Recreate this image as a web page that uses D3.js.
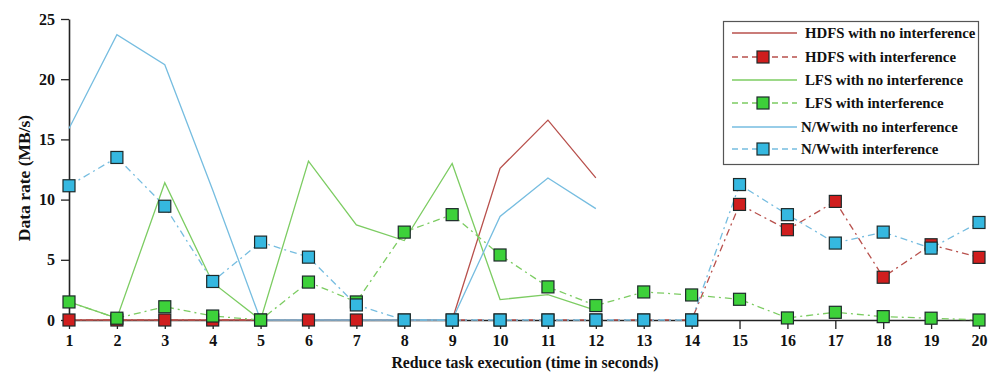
<!DOCTYPE html>
<html>
<head>
<meta charset="utf-8">
<script src="https://cdn.jsdelivr.net/npm/d3@7"></script>
<style>
  html, body { margin: 0; padding: 0; background: #fff; }
  svg { display: block; }
  text { font-family: "Liberation Serif", "Times New Roman", serif; font-weight: bold; fill: #111; }
</style>
</head>
<body>
<svg id="chart" width="992" height="374"></svg>
<script>
// Time steps (seconds) of the reduce task
const seconds = d3.range(1, 21);
const yTicks = [0, 5, 10, 15, 20, 25];

// Data rates in MB/s
const hdfsNoInterference = [0, 0, 0, 0, 0, 0, 0, 0, 0, 12.6, 16.6, 11.8];
const hdfsInterference   = [0, 0, 0, 0, 0, 0, 0, 0, 0, 0, 0, 0, 0, 0, 9.6, 7.5, 9.85, 3.55, 6.25, 5.2];
const lfsNoInterference  = [1.5, 0.15, 11.4, 3.1, 0, 13.2, 7.9, 6.6, 13.0, 1.7, 2.1, 0.8];
const lfsInterference    = [1.5, 0.15, 1.1, 0.33, 0, 3.15, 1.5, 7.3, 8.75, 5.4, 2.75, 1.2, 2.33, 2.08, 1.72, 0.17, 0.64, 0.28, 0.15, 0];
const nwNoInterference   = [15.9, 23.7, 21.2, 10.8, 0, 0, 0, 0, 0, 8.6, 11.8, 9.25];
const nwInterference     = [11.15, 13.5, 9.45, 3.2, 6.47, 5.22, 1.25, 0, 0, 0, 0, 0, 0, 0, 11.25, 8.75, 6.39, 7.3, 5.97, 8.1];

const seriesNames = [
  "HDFS with no interference", "HDFS with interference",
  "LFS with no interference", "LFS with interference",
  "N/W with no interference", "N/W with interference"
];

const svg = d3.select("#chart");
const margin = { left: 70, right: 13, top: 19, bottom: 54 };
const W = 992, H = 374;

const x = d3.scaleLinear().domain([1, 20]).range([margin.left - 1, W - margin.right]);
const y = d3.scaleLinear().domain([0, 25]).range([H - margin.bottom, margin.top]);

const styles = [
  { line: "#b8504c", fill: "#d01e1e", dash: null, marker: false },
  { line: "#b8504c", fill: "#d01e1e", dash: "7,4,2,4", marker: true },
  { line: "#7ccc62", fill: "#3dd13a", dash: null, marker: false },
  { line: "#7ccc62", fill: "#3dd13a", dash: "7,4,2,4", marker: true },
  { line: "#76bde0", fill: "#35b8e0", dash: null, marker: false },
  { line: "#76bde0", fill: "#35b8e0", dash: "7,4,2,4", marker: true }
];
const data = [hdfsNoInterference, hdfsInterference, lfsNoInterference, lfsInterference, nwNoInterference, nwInterference];

// Axes
const xAxis = d3.axisBottom(x).tickValues(seconds).tickSize(9).tickSizeOuter(0).tickPadding(6);
const yAxis = d3.axisLeft(y).tickValues(yTicks).tickSize(8).tickSizeOuter(0).tickPadding(6);

const gx = svg.append("g").attr("transform", `translate(0,${y(0)})`).call(xAxis);
const gy = svg.append("g").attr("transform", `translate(${x(1)},0)`).call(yAxis);
[gx, gy].forEach(g => {
  g.select(".domain").attr("stroke", "#222").attr("stroke-width", 1.6);
  g.selectAll(".tick line").attr("stroke", "#222").attr("stroke-width", 1.3);
  g.selectAll(".tick text").style("font-family", "'Liberation Serif', serif")
    .style("font-weight", "bold").style("font-size", "16px").attr("fill", "#111");
});

// Axis titles
svg.append("text")
  .attr("x", 525).attr("y", 368)
  .attr("text-anchor", "middle")
  .style("font-size", "15.8px")
  .text("Reduce task execution  (time in seconds)");
svg.append("text")
  .attr("transform", `translate(30,178) rotate(-90)`)
  .attr("text-anchor", "middle")
  .style("font-size", "17.5px")
  .text("Data rate (MB/s)");

// Lines
const line = d3.line().x((d, i) => x(seconds[i])).y(d => y(d));
const plot = svg.append("g");
data.forEach((vals, k) => {
  plot.append("path")
    .datum(vals)
    .attr("fill", "none")
    .attr("stroke", styles[k].line)
    .attr("stroke-width", 1.3)
    .attr("stroke-dasharray", styles[k].dash)
    .attr("d", line);
});

// Square markers for the interference series
const sq = 12;
data.forEach((vals, k) => {
  if (!styles[k].marker) return;
  plot.append("g").selectAll("rect")
    .data(vals)
    .join("rect")
    .attr("x", (d, i) => x(seconds[i]) - sq / 2)
    .attr("y", d => y(d) - sq / 2)
    .attr("width", sq).attr("height", sq)
    .attr("fill", styles[k].fill)
    .attr("stroke", "#1d2a2a")
    .attr("stroke-width", 1.2);
});

// Legend
const lg = svg.append("g");
lg.append("rect")
  .attr("x", 723.5).attr("y", 21.5).attr("width", 255).attr("height", 143)
  .attr("fill", "#fff").attr("stroke", "#555").attr("stroke-width", 1.2);
const rowY = [33, 57, 80, 103, 127, 149];
seriesNames.forEach((name, k) => {
  const yy = rowY[k];
  lg.append("line")
    .attr("x1", 732).attr("x2", 797).attr("y1", yy).attr("y2", yy)
    .attr("stroke", styles[k].line).attr("stroke-width", 1.3)
    .attr("stroke-dasharray", styles[k].dash ? "6,4" : null);
  if (styles[k].marker) {
    lg.append("rect")
      .attr("x", 763 - sq / 2).attr("y", yy - sq / 2).attr("width", sq).attr("height", sq)
      .attr("fill", styles[k].fill).attr("stroke", "#1d2a2a").attr("stroke-width", 1.2);
  }
  const label = name.replace("N/W with", "N/Wwith");
  lg.append("text")
    .attr("x", k >= 4 ? 801 : 805).attr("y", yy + 5)
    .style("font-size", "14.8px")
    .text(label);
});
</script>
</body>
</html>
